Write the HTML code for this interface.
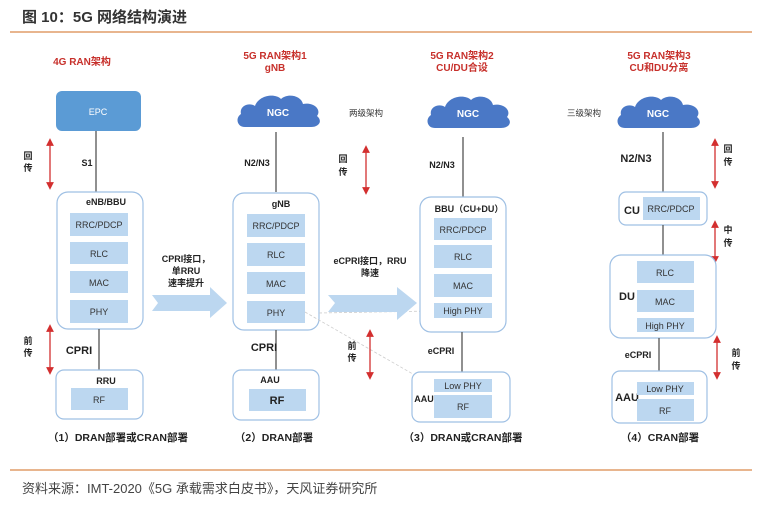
<!DOCTYPE html>
<html><head><meta charset="utf-8"><style>
html,body{margin:0;padding:0;background:#fff;}
svg{display:block;}
text{font-family:"Liberation Sans","Noto Sans CJK SC",sans-serif;}
.r{fill:#c7302b;font-weight:bold;font-size:10px;text-anchor:middle;}
.b{fill:#222;font-weight:bold;font-size:9px;text-anchor:middle;}
.bb{fill:#222;font-weight:bold;font-size:11px;text-anchor:middle;}
.in{fill:#333;font-size:9px;text-anchor:middle;}
.box{fill:#fff;stroke:#9fc0e4;stroke-width:1.2;}
.ib{fill:#bcd7f0;}
.ln{stroke:#555;stroke-width:1.3;}
.ra{stroke:#d32f2f;stroke-width:1.3;}
.cap{fill:#222;font-weight:bold;font-size:10.5px;text-anchor:middle;}
</style></head><body>
<svg width="757" height="507" viewBox="0 0 757 507" xmlns="http://www.w3.org/2000/svg">
<defs>
<marker id="ah" markerWidth="6" markerHeight="6" refX="3" refY="3" orient="auto-start-reverse"><path d="M0,0 L6,3 L0,6 Z" fill="#d32f2f"/></marker>
<path id="cloud" d="M10,34 C2,34 0,25 6,21 C4,13 14,9 20,13 C24,2 40,0 46,6 C52,0 66,2 68,11 C78,9 87,16 82,23 C88,28 84,34 76,34 Z" fill="#4a78c6"/>
</defs>
<text x="22" y="22" font-size="15" font-weight="bold" fill="#333" style="font-family:'Liberation Sans','Noto Sans CJK SC',sans-serif">图 10：5G 网络结构演进</text>
<line x1="10" y1="32" x2="752" y2="32" stroke="#d9894a" stroke-width="1.2"/>
<line x1="10" y1="470" x2="752" y2="470" stroke="#d9894a" stroke-width="1.2"/>
<text x="22" y="493" font-size="13" fill="#444">资料来源：IMT-2020《5G 承载需求白皮书》，天风证券研究所</text>

<!-- Column 1 -->
<text class="r" x="82" y="65">4G RAN架构</text>
<rect x="56" y="91" width="85" height="40" rx="6" fill="#5b9bd5"/>
<text x="98" y="115" fill="#fff" font-size="9" text-anchor="middle">EPC</text>
<line class="ln" x1="96" y1="131" x2="96" y2="192"/>
<text class="b" x="87" y="166">S1</text>
<line class="ra" x1="50" y1="142" x2="50" y2="186" marker-start="url(#ah)" marker-end="url(#ah)"/>
<text class="b" x="28" y="159">回</text><text class="b" x="28" y="171">传</text>
<rect class="box" x="57" y="192" width="86" height="137" rx="11"/>
<text class="b" x="106" y="205">eNB/BBU</text>
<rect class="ib" x="70" y="213" width="58" height="23"/><text class="in" x="99" y="228">RRC/PDCP</text>
<rect class="ib" x="70" y="242" width="58" height="22"/><text class="in" x="99" y="257">RLC</text>
<rect class="ib" x="70" y="271" width="58" height="22"/><text class="in" x="99" y="286">MAC</text>
<rect class="ib" x="70" y="300" width="58" height="23"/><text class="in" x="99" y="315">PHY</text>
<line class="ln" x1="99" y1="329" x2="99" y2="370"/>
<text class="bb" x="79" y="354">CPRI</text>
<line class="ra" x1="50" y1="328" x2="50" y2="371" marker-start="url(#ah)" marker-end="url(#ah)"/>
<text class="b" x="28" y="344">前</text><text class="b" x="28" y="356">传</text>
<rect class="box" x="56" y="370" width="87" height="49" rx="8"/>
<text class="b" x="106" y="384">RRU</text>
<rect class="ib" x="71" y="388" width="57" height="22"/><text class="in" x="99" y="403">RF</text>
<text class="cap" x="118" y="441">（1）DRAN部署或CRAN部署</text>

<!-- arrow 1 -->
<text class="b" x="186" y="262" font-size="10">CPRI接口，</text>
<text class="b" x="186" y="274" font-size="10">单RRU</text>
<text class="b" x="186" y="286" font-size="10">速率提升</text>
<path d="M152,295 L210,295 L210,287 L227,303 L210,318 L210,311 L152,311 L158,303 Z" fill="#bcd7f0"/>

<!-- Column 2 -->
<text class="r" x="275" y="59">5G RAN架构1</text>
<text class="r" x="275" y="71">gNB</text>
<use href="#cloud" transform="translate(235,93)"/>
<text x="278" y="116" fill="#fff" font-size="10" font-weight="bold" text-anchor="middle">NGC</text>
<line class="ln" x1="276" y1="132" x2="276" y2="192"/>
<text class="b" x="257" y="166">N2/N3</text>
<text x="366" y="116" font-size="8.5" fill="#333" text-anchor="middle">两级架构</text>
<line class="ra" x1="366" y1="149" x2="366" y2="191" stroke-width="0.8" marker-start="url(#ah)" marker-end="url(#ah)"/>
<text class="b" x="343" y="162">回</text><text class="b" x="343" y="175">传</text>
<rect class="box" x="233" y="193" width="86" height="137" rx="11"/>
<text class="b" x="281" y="207">gNB</text>
<rect class="ib" x="247" y="214" width="58" height="23"/><text class="in" x="276" y="229">RRC/PDCP</text>
<rect class="ib" x="247" y="243" width="58" height="23"/><text class="in" x="276" y="258">RLC</text>
<rect class="ib" x="247" y="272" width="58" height="22"/><text class="in" x="276" y="287">MAC</text>
<rect class="ib" x="247" y="301" width="58" height="22"/><text class="in" x="276" y="316">PHY</text>
<line x1="305" y1="312" x2="432" y2="385" stroke="#ccc" stroke-width="0.8" stroke-dasharray="3,2"/>
<line x1="319" y1="313" x2="432" y2="311" stroke="#ccc" stroke-width="0.8" stroke-dasharray="3,2"/>
<line class="ln" x1="276" y1="330" x2="276" y2="370"/>
<text class="bb" x="264" y="351">CPRI</text>
<line class="ra" x1="370" y1="333" x2="370" y2="376" marker-start="url(#ah)" marker-end="url(#ah)"/>
<text class="b" x="352" y="349">前</text><text class="b" x="352" y="361">传</text>
<rect class="box" x="233" y="370" width="86" height="50" rx="8"/>
<text class="b" x="270" y="383">AAU</text>
<rect class="ib" x="249" y="389" width="57" height="22"/><text class="bb" x="277" y="404" font-size="10">RF</text>
<text class="cap" x="274" y="441">（2）DRAN部署</text>

<!-- arrow 2 -->
<text class="b" x="370" y="264" font-size="10">eCPRI接口，RRU</text>
<text class="b" x="370" y="276" font-size="10">降速</text>
<path d="M328,295 L397,295 L397,287 L417,303 L397,320 L397,312 L328,312 L335,303 Z" fill="#bcd7f0"/>

<!-- Column 3 -->
<text class="r" x="462" y="59">5G RAN架构2</text>
<text class="r" x="462" y="71">CU/DU合设</text>
<use href="#cloud" transform="translate(425,94)"/>
<text x="468" y="117" fill="#fff" font-size="10" font-weight="bold" text-anchor="middle">NGC</text>
<line class="ln" x1="463" y1="137" x2="463" y2="197"/>
<text class="b" x="442" y="168">N2/N3</text>
<rect class="box" x="420" y="197" width="86" height="135" rx="11"/>
<text class="b" x="469" y="212">BBU（CU+DU）</text>
<rect class="ib" x="434" y="218" width="58" height="22"/><text class="in" x="463" y="233">RRC/PDCP</text>
<rect class="ib" x="434" y="245" width="58" height="23"/><text class="in" x="463" y="260">RLC</text>
<rect class="ib" x="434" y="274" width="58" height="23"/><text class="in" x="463" y="289">MAC</text>
<rect class="ib" x="434" y="303" width="58" height="15"/><text class="in" x="463" y="314">High PHY</text>
<line class="ln" x1="462" y1="332" x2="462" y2="372"/>
<text class="b" x="441" y="354" font-size="10">eCPRI</text>
<rect class="box" x="412" y="372" width="98" height="50" rx="8"/>
<rect class="ib" x="434" y="379" width="58" height="13"/><text class="in" x="463" y="389">Low PHY</text>
<rect class="ib" x="434" y="395" width="58" height="23"/><text class="in" x="463" y="410">RF</text>
<text class="b" x="424" y="402">AAU</text>
<text class="cap" x="463" y="441">（3）DRAN或CRAN部署</text>

<!-- Column 4 -->
<text class="r" x="659" y="59">5G RAN架构3</text>
<text class="r" x="659" y="71">CU和DU分离</text>
<text x="584" y="116" font-size="8.5" fill="#333" text-anchor="middle">三级架构</text>
<use href="#cloud" transform="translate(615,94)"/>
<text x="658" y="117" fill="#fff" font-size="10" font-weight="bold" text-anchor="middle">NGC</text>
<line class="ln" x1="663" y1="132" x2="663" y2="192"/>
<text class="bb" x="636" y="162">N2/N3</text>
<line class="ra" x1="715" y1="142" x2="715" y2="185" marker-start="url(#ah)" marker-end="url(#ah)"/>
<text class="b" x="728" y="152">回</text><text class="b" x="728" y="165">传</text>
<rect class="box" x="619" y="192" width="88" height="33" rx="7"/>
<text class="bb" x="632" y="214">CU</text>
<rect class="ib" x="643" y="197" width="57" height="23"/><text class="in" x="671" y="212">RRC/PDCP</text>
<line class="ln" x1="663" y1="225" x2="663" y2="255"/>
<line class="ra" x1="715" y1="224" x2="715" y2="260" marker-start="url(#ah)" marker-end="url(#ah)"/>
<text class="b" x="728" y="233">中</text><text class="b" x="728" y="246">传</text>
<rect class="box" x="610" y="255" width="106" height="83" rx="11"/>
<text class="bb" x="627" y="300">DU</text>
<rect class="ib" x="637" y="261" width="57" height="22"/><text class="in" x="665" y="276">RLC</text>
<rect class="ib" x="637" y="290" width="57" height="22"/><text class="in" x="665" y="305">MAC</text>
<rect class="ib" x="637" y="318" width="57" height="14"/><text class="in" x="665" y="329">High PHY</text>
<line class="ln" x1="659" y1="338" x2="659" y2="371" stroke="#222"/>
<text class="b" x="638" y="358" font-size="10">eCPRI</text>
<line class="ra" x1="717" y1="339" x2="717" y2="376" marker-start="url(#ah)" marker-end="url(#ah)"/>
<text class="b" x="736" y="356">前</text><text class="b" x="736" y="369">传</text>
<rect class="box" x="612" y="371" width="95" height="52" rx="8"/>
<text class="bb" x="627" y="401">AAU</text>
<rect class="ib" x="637" y="382" width="57" height="13"/><text class="in" x="665" y="392">Low PHY</text>
<rect class="ib" x="637" y="399" width="57" height="22"/><text class="in" x="665" y="414">RF</text>
<text class="cap" x="660" y="441">（4）CRAN部署</text>
</svg>
</body></html>
